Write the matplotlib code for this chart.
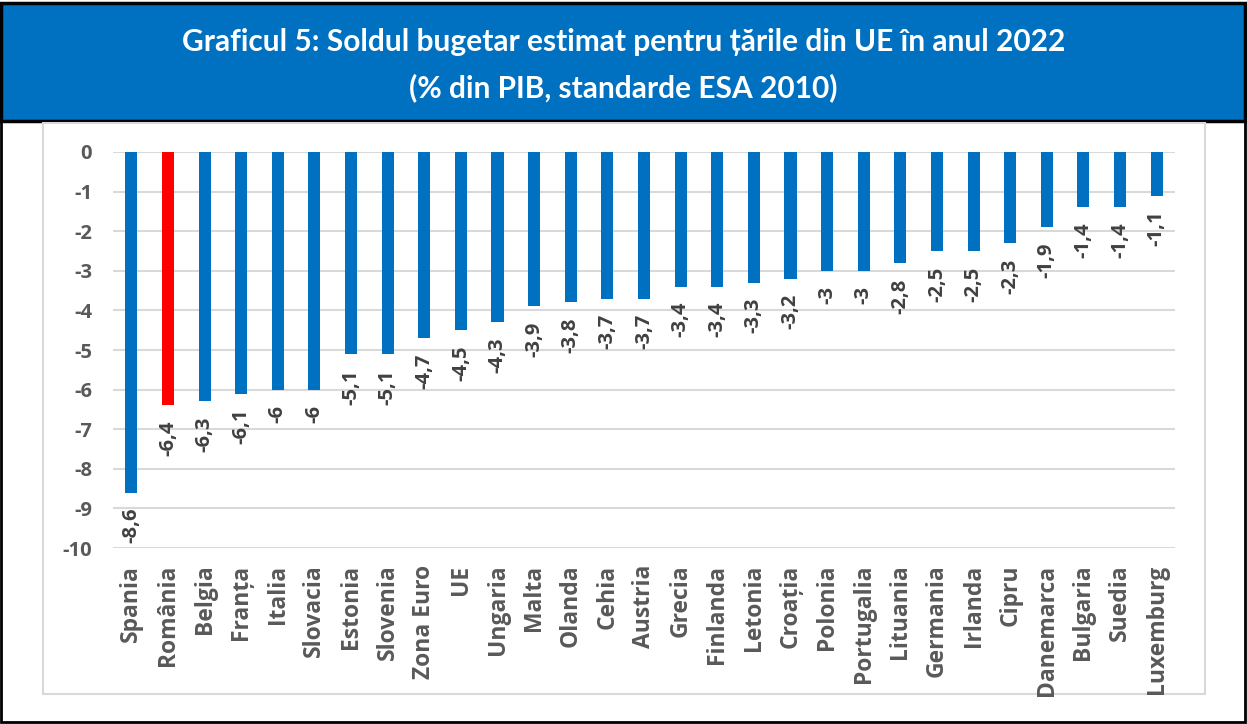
"""Budget balance chart for EU countries, 2022."""

import matplotlib

matplotlib.use("Agg")

import matplotlib.pyplot as plt
from matplotlib.patches import Rectangle
import numpy as np

plt.rcParams["font.family"] = ["Lato", "DejaVu Sans"]
LABEL_FONT = ["Open Sans", "DejaVu Sans"]

COUNTRIES = ["Spania", "România", "Belgia", "Franța", "Italia", "Slovacia",
             "Estonia", "Slovenia", "Zona Euro", "UE", "Ungaria", "Malta",
             "Olanda", "Cehia", "Austria", "Grecia", "Finlanda", "Letonia",
             "Croația", "Polonia", "Portugalia", "Lituania", "Germania",
             "Irlanda", "Cipru", "Danemarca", "Bulgaria", "Suedia", "Luxemburg"]
BALANCE = [-8.6, -6.4, -6.3, -6.1, -6, -6, -5.1, -5.1, -4.7, -4.5, -4.3, -3.9,
           -3.8, -3.7, -3.7, -3.4, -3.4, -3.3, -3.2, -3, -3, -2.8, -2.5, -2.5,
           -2.3, -1.9, -1.4, -1.4, -1.1]
HIGHLIGHT = "România"
Y_TICKS = list(range(0, -11, -1))

TITLE = ("Graficul 5: Soldul bugetar estimat pentru țările din UE în anul 2022\n"
         "(% din PIB, standarde ESA 2010)")

BLUE = "#0070C0"
RED = "#FF0000"
GRID = "#D9D9D9"
TEXT = "#595959"


def fmt(v):
    s = f"{v:g}"
    return s.replace(".", ",")


W, H = 1247, 724
fig = plt.figure(figsize=(W / 100, H / 100), dpi=100)

# header band and frames
fig.patches.append(Rectangle((1 / W, 2 / H), 1 - 3 / W, 1 - 123 / H,
                             transform=fig.transFigure, facecolor="white",
                             edgecolor="black", linewidth=2, zorder=-3))
fig.patches.append(Rectangle((1 / W, 1 - 121 / H), 1 - 3 / W, 118 / H,
                             transform=fig.transFigure, facecolor=BLUE,
                             edgecolor="black", linewidth=2.5, zorder=-2))
fig.patches.append(Rectangle((43 / W, 1 - 694 / H), (1205 - 43) / W, (694 - 123) / H,
                             transform=fig.transFigure, facecolor="none",
                             edgecolor=GRID, linewidth=1.5, zorder=-1))
fig.text(0.5, 1 - 65 / H, TITLE, ha="center", va="center", color="white",
         fontsize=21.5, fontweight="bold", linespacing=1.75)

ax = fig.add_axes([113 / W, 1 - 548 / H, (1175 - 113) / W, (548 - 152) / H])
ax.set_zorder(2)
x = np.arange(len(COUNTRIES))
colors = [RED if c == HIGHLIGHT else BLUE for c in COUNTRIES]
ax.bar(x, BALANCE, width=0.33, color=colors, zorder=3)
for xi, v in zip(x, BALANCE):
    ax.annotate(fmt(v), (xi, v), xytext=(0, -11), textcoords="offset points",
                rotation=90, ha="center", va="top", fontsize=14.5,
                family=LABEL_FONT, fontweight="bold", color="#404040")

ax.set_xlim(-0.5, len(COUNTRIES) - 0.5)
ax.set_ylim(-10, 0)
ax.set_yticks(Y_TICKS)
ax.set_yticklabels([str(t) for t in Y_TICKS], family=LABEL_FONT,
                   fontweight="bold", fontsize=14.5)
ax.set_xticks(x)
ax.set_xticklabels(COUNTRIES, rotation=90, va="top", ha="center",
                   family=LABEL_FONT, fontweight="bold", fontsize=16.5)
ax.tick_params(axis="both", length=0, labelcolor=TEXT)
ax.tick_params(axis="x", pad=12)
ax.tick_params(axis="y", pad=15)
ax.grid(True, axis="y", color=GRID, linewidth=1.5, zorder=0)
ax.set_axisbelow(True)
for sp in ax.spines.values():
    sp.set_visible(False)
ax.patch.set_alpha(0)

fig.savefig("out.png", dpi=100)
